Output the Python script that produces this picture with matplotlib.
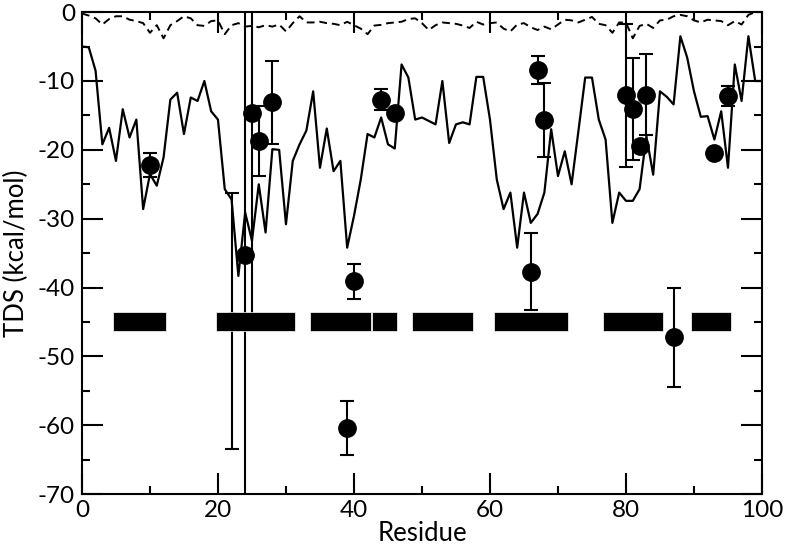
import matplotlib
matplotlib.use('Agg')
import matplotlib.pyplot as plt
import numpy as np

plt.rcParams['font.family'] = ['Lato', 'DejaVu Sans']
plt.rcParams['axes.unicode_minus'] = False

# solid line: TDS per residue
residues = list(range(0, 101))
tds_line = [-5.0, -5.1, -8.5, -19.2, -16.8, -21.6, -14.1, -18.2, -15.6, -28.6,
            -23.5, -25.2, -21.1, -12.7, -11.7, -17.7, -12.4, -12.9, -10.0, -14.4,
            -15.6, -25.7, -27.2, -38.3, -29.1, -33.2, -25.0, -32.0, -19.9, -20.0,
            -30.8, -21.6, -19.2, -17.2, -11.5, -22.6, -16.9, -23.1, -21.6, -34.2,
            -29.6, -24.3, -17.7, -18.2, -15.3, -19.2, -19.8, -7.6, -9.5, -15.6,
            -15.3, -15.8, -16.3, -10.0, -19.0, -16.3, -16.0, -16.3, -9.4, -9.4,
            -15.6, -24.3, -28.6, -26.2, -34.2, -26.2, -30.6, -29.3, -26.2, -17.0,
            -23.8, -20.2, -25.0, -17.3, -9.5, -9.5, -15.6, -18.5, -30.6, -26.2,
            -27.4, -27.4, -25.7, -18.0, -23.6, -11.5, -12.3, -13.4, -3.5, -6.6,
            -11.5, -15.2, -15.1, -18.5, -14.4, -22.6, -7.6, -12.9, -3.5, -10.0,
            -10.0]

# dashed line near zero
tds_dashed = [-0.2, -0.5, -0.9, -1.8, -1.0, -0.6, -0.6, -1.1, -1.3, -1.6,
              -3.0, -1.9, -3.8, -1.9, -1.3, -0.6, -0.9, -1.9, -2.0, -1.3,
              -1.2, -3.2, -1.9, -1.6, -2.1, -2.0, -2.2, -1.9, -2.1, -1.8,
              -2.8, -1.6, -0.6, -1.5, -1.5, -1.4, -1.6, -1.7, -1.9, -1.4,
              -1.9, -2.4, -3.2, -1.95, -1.85, -1.6, -1.5, -1.4, -1.0, -0.9,
              -1.6, -2.6, -1.9, -1.5, -1.6, -1.7, -1.95, -2.3, -1.4, -1.8,
              -1.6, -1.5, -2.4, -2.8, -1.8, -1.6, -2.2, -2.6, -2.1, -2.5,
              -1.8, -1.1, -1.2, -1.5, -1.1, -0.7, -1.7, -1.9, -3.0, -1.5,
              -1.5, -3.8, -2.0, -1.7, -2.3, -1.2, -1.1, -0.6, -0.4, -0.6,
              -1.2, -1.5, -1.1, -1.2, -1.3, -1.9, -1.3, -1.8, -0.4, 0.0,
              0.0]

# points with error bars
pt_x = [10, 22, 24, 25, 26, 28, 39, 40, 44, 46, 66, 67, 68, 80, 81, 82, 83, 87, 93, 95]
pt_y = [-22.2, -44.9, -35.3, -14.7, -18.7, -13.1, -60.4, -39.1, -12.7, -14.7,
        -37.7, -8.4, -15.7, -12.1, -14.1, -19.4, -12.0, -47.2, -20.5, -12.2]
pt_err = [1.7, 18.6, 40.0, 30.0, 5.1, 6.0, 3.9, 2.5, 1.5, 0.5,
          5.6, 2.1, 5.4, 10.4, 7.4, 0.5, 5.9, 7.2, 0.5, 1.5]

# secondary structure segments (start, end)
seg_start = [4.6, 19.7, 33.6, 42.6, 48.6, 60.6, 76.6, 89.6]
seg_end = [12.4, 31.4, 42.5, 46.4, 57.5, 71.4, 85.4, 95.4]
seg_y = -46.3
seg_h = 2.8

fig = plt.figure(figsize=(7.88, 5.51), dpi=100)
ax = fig.add_axes([0.104, 0.103, 0.863, 0.875])

ax.plot(residues, tds_line, color='black', lw=1.6, zorder=3)
ax.plot(residues, tds_dashed, color='black', lw=1.4, dashes=(4, 2.5), zorder=3)

ax.errorbar(pt_x, pt_y, yerr=pt_err, fmt='o', color='black', ms=12.5,
            elinewidth=1.5, capsize=4.7, capthick=1.5, zorder=4)

ax.broken_barh([(s, e - s) for s, e in zip(seg_start, seg_end)], (seg_y, seg_h),
               facecolor='black', edgecolor='white', lw=0.5, zorder=5)

ax.set_xlim(0, 100)
ax.set_ylim(-70, 0)
ax.set_xticks(np.arange(0, 101, 20))
ax.set_xticks(np.arange(0, 101, 10), minor=True)
ax.set_yticks(np.arange(-70, 1, 10))
ax.set_yticks(np.arange(-70, 1, 5), minor=True)
ax.tick_params(which='both', direction='in', top=True, right=True, width=1.5,
               labelsize=17.5)
ax.tick_params(which='major', length=15)
ax.tick_params(which='minor', length=5.5)
ax.tick_params(axis='x', pad=4)
ax.tick_params(axis='y', pad=5)
for s in ax.spines.values():
    s.set_linewidth(1.5)

ax.set_xlabel('Residue', fontsize=18.5, labelpad=0)
ax.set_ylabel('TDS (kcal/mol)', fontsize=18.5, labelpad=6)

fig.savefig('out.png', dpi=100)
